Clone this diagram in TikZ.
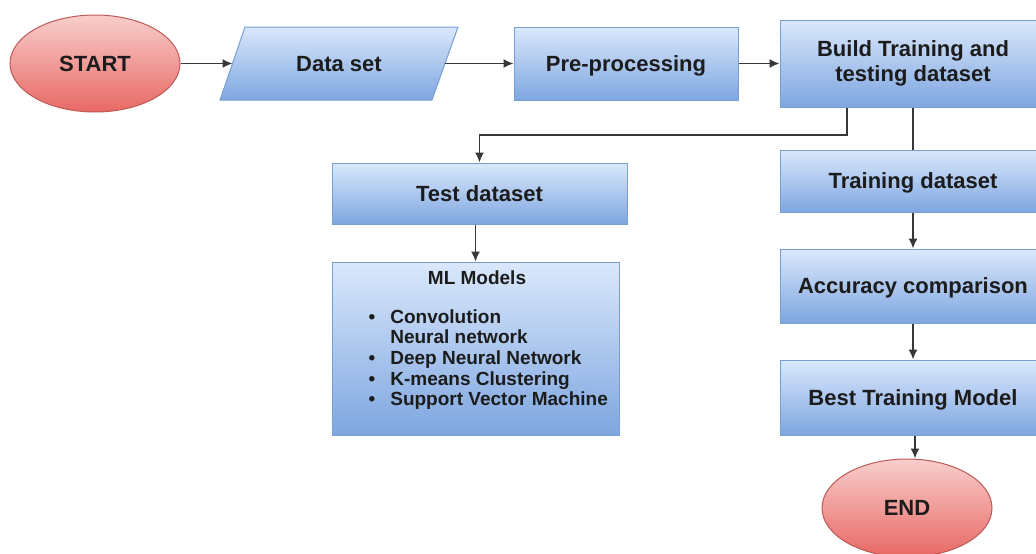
\documentclass[tikz,border=0pt]{standalone}
\usepackage{fontspec}
\setmainfont{Liberation Sans}
\usetikzlibrary{shapes.geometric,arrows.meta}
\definecolor{boxtop}{RGB}{218,232,252}
\definecolor{boxbot}{RGB}{126,166,224}
\definecolor{boxline}{RGB}{120,158,212}
\definecolor{elltop}{RGB}{248,206,204}
\definecolor{ellbot}{RGB}{232,104,100}
\definecolor{ellline}{RGB}{190,90,86}
\definecolor{linec}{RGB}{55,55,55}
\definecolor{txt}{RGB}{28,28,28}
\begin{document}
\begin{tikzpicture}[x=1pt,y=-1pt,
  box/.style={rectangle, draw=boxline, line width=1pt, top color=boxtop, bottom color=boxbot,
    inner sep=0pt, font=\fontsize{22}{25}\selectfont\bfseries, text=txt, align=center},
  oneline/.style={text height=15.8pt, text depth=0pt},
  term/.style={ellipse, draw=ellline, line width=1pt, top color=elltop, bottom color=ellbot,
    inner sep=0pt, font=\fontsize{22}{25}\selectfont\bfseries, text=txt},
  conn/.style={draw=linec, line width=1.6pt},
  arr/.style={conn, -{Latex[length=10pt,width=9pt]}},
  small/.style={font=\fontsize{19}{20.6}\selectfont\bfseries, text=txt}]
\useasboundingbox (0,0) rectangle (1036,554);

% START
\node[term, minimum width=170pt, minimum height=97pt] (start) at (95,63.5) {START};

% Data set parallelogram
\path[draw=boxline, line width=1pt, top color=boxtop, bottom color=boxbot]
  (245,27) -- (458,27) -- (432,100) -- (220,100) -- cycle;
\node[font=\fontsize{22}{25}\selectfont\bfseries, text=txt] (data) at (339,64.5) {Data set};
\coordinate (dataW) at (232.5,63.5);
\coordinate (dataE) at (445,63.5);

% boxes
\node[box, oneline, minimum width=224pt, minimum height=73pt] (pre) at (626,63.5) {Pre-processing};
\node[box, minimum width=266pt, minimum height=87pt] (build) at (913,63.5) {Build Training and\\testing dataset};
\node[box, oneline, minimum width=266pt, minimum height=62pt] (training) at (913,181) {Training dataset};
\node[box, oneline, minimum width=266pt, minimum height=74pt] (accuracy) at (913,286) {Accuracy comparison};
\node[box, oneline, minimum width=266pt, minimum height=75pt] (best) at (913,397.5) {Best Training Model};
\node[box, minimum width=295pt, minimum height=61pt] (test) at (479.5,193.5) {Test dataset};
\node[box, minimum width=287pt, minimum height=173pt] (ml) at (475.5,348.5) {};
\node[small] (mlt) at (477,278) {ML Models};
\node[small, anchor=north west, inner sep=0pt] (mll) at (368.5,308.6)
  {\begin{tabular}{@{}c@{\hspace{15pt}}l@{}}
   \textbullet & Convolution\\
               & Neural network\\
   \textbullet & Deep Neural Network\\
   \textbullet & K-means Clustering\\
   \textbullet & Support Vector Machine
   \end{tabular}};

% END
\node[term, minimum width=170pt, minimum height=98pt] (end) at (907,508) {END};

% connectors
\draw[arr] (start.east) -- (dataW);
\draw[arr] (dataE) -- (pre.west);
\draw[arr] (pre.east) -- (build.west);
\coordinate (bend) at (479.5,135);
\draw[arr] ([xshift=-66pt]build.south) |- (bend) -- (test.north);
\draw[conn] (build.south) -- (training.north);
\draw[arr] (training.south) -- (accuracy.north);
\draw[arr] (accuracy.south) -- (best.north);
\draw[arr] (ml.north |- test.south) -- (ml.north);
\draw[arr] ([xshift=2pt]best.south) -- ([xshift=2pt]best.south |- end.north);
\end{tikzpicture}
\end{document}
